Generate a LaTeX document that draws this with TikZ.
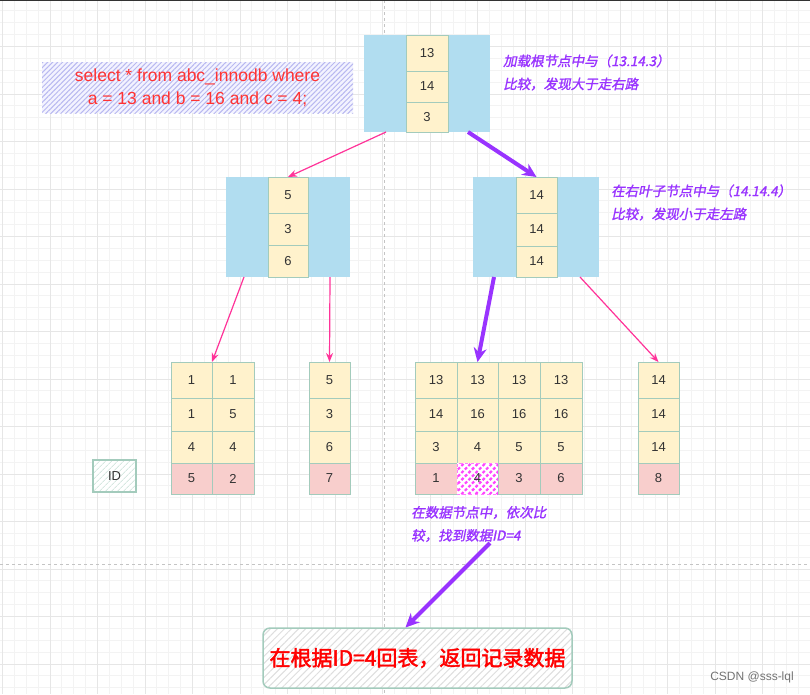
\documentclass[tikz,border=0pt]{standalone}
\usepackage{fontspec}
\setmainfont{Liberation Sans}
\newfontfamily\cjk[FakeBold=2.2]{Noto Sans CJK SC}
\newfontfamily\annfont[FakeSlant=0.2,FakeBold=1.5]{Noto Sans CJK SC}
\usetikzlibrary{arrows.meta,patterns.meta}
\definecolor{blueC}{HTML}{B1DDF0}
\definecolor{cellY}{HTML}{FFF2CC}
\definecolor{pinkC}{HTML}{F8CECC}
\definecolor{cellB}{HTML}{A3CBBC}
\definecolor{txtC}{HTML}{333333}
\definecolor{purC}{HTML}{9933FF}
\definecolor{redC}{HTML}{FF3333}
\definecolor{pinkA}{HTML}{FF3399}
\definecolor{qbg}{HTML}{F3F3FF}
\definecolor{qline}{HTML}{B8B8F0}
\definecolor{gridMinor}{HTML}{F3F3F3}
\definecolor{gridMajor}{HTML}{E6E6E6}
\definecolor{pageC}{HTML}{C4C4C4}
\definecolor{hatchM}{HTML}{FF44FF}
\tikzset{
  cell/.style 2 args={draw=cellB, fill=cellY, line width=1pt, inner sep=0pt, outer sep=0pt,
    anchor=north west, minimum width=#1pt, minimum height=#2pt, text=txtC,
    font=\fontsize{13}{15}\selectfont},
  pinkcell/.style 2 args={cell={#1}{#2}, fill=pinkC},
  hcell/.style 2 args={anchor=north west, inner sep=0pt, outer sep=0pt, minimum width=#1pt, minimum height=#2pt,
    draw=hatchM!70, dashed, line width=0.8pt, preaction={fill=white},
    pattern={Lines[angle=45,distance=5pt,line width=2.2pt]}, pattern color=hatchM,
    text=txtC, font=\fontsize{13}{15}\selectfont},
  blk/.style={fill=blueC, draw=none, anchor=north west, inner sep=0pt, outer sep=0pt},
  ann/.style={anchor=west, inner sep=0pt, align=left, text=purC, font=\annfont\fontsize{13.5}{23}\selectfont},
  pinkarr/.style={draw=pinkA, line width=1.2pt, -{Stealth[length=9pt,width=7pt]}},
  purparr/.style={draw=purC, line width=4pt, -{Stealth[length=14pt,width=13pt]}},
}
\newcommand\leafcol[8][pinkcell]{%
  \node[cell={#4}{36}] (#2a) at (#3,362) {#5};
  \node[cell={#4}{33}] (#2b) at (#3,398) {#6};
  \node[cell={#4}{32}] (#2c) at (#3,431) {#7};
  \node[#1={#4}{31}] (#2d) at (#3,463) {#8};}
\begin{document}
\begin{tikzpicture}[x=1pt,y=-1pt]
\useasboundingbox (0,0) rectangle (810,694);
\fill[white] (0,0) rectangle (810,694);
% grid
\foreach \k in {0,...,68} {\draw[gridMinor,line width=0.8pt] ({2.5+\k*11.875},0) -- ++(0,694);}
\foreach \k in {0,...,58} {\draw[gridMinor,line width=0.8pt] (0,{-1+\k*11.875}) -- ++(810,0);}
\foreach \k in {0,...,17} {\draw[gridMajor,line width=0.9pt] ({2.5+\k*47.5},0) -- ++(0,694);}
\foreach \k in {0,...,14} {\draw[gridMajor,line width=0.9pt] (0,{-1+\k*47.5}) -- ++(810,0);}
% page break lines
\draw[pageC,line width=1pt,dash pattern=on 3pt off 3pt] (384,0) -- (384,694);
\draw[pageC,line width=1pt,dash pattern=on 3pt off 3pt] (0,564) -- (810,564);
\draw[txtC,line width=1.5pt] (0,0.5) -- (810,0.5);

% query
\node[minimum width=311pt, minimum height=51pt, inner sep=0pt, align=center, text=redC,
  font=\fontsize{17.5}{23}\selectfont, preaction={fill=qbg},
  pattern={Lines[angle=45,distance=3.5pt,line width=1pt]}, pattern color=qline]
  (query) at (197.5,87.5) {select * from abc\_innodb where\\a = 13 and b = 16 and c = 4;};

% root
\node[blk,minimum width=126pt,minimum height=97pt] (root) at (364,35) {};
\node[cell={42}{36}] (r1) at (406,35) {13};
\node[cell={42}{31}] (r2) at (406,71) {14};
\node[cell={42}{30}] (r3) at (406,102) {3};
\node[ann] (ann1) at (503,72.5) {加载根节点中与（13.14.3）\\比较，发现大于走右路};

% left middle
\node[blk,minimum width=124pt,minimum height=100pt] (lm) at (226,177) {};
\node[cell={40}{36}] (lm1) at (268,177) {5};
\node[cell={40}{32}] (lm2) at (268,213) {3};
\node[cell={40}{32}] (lm3) at (268,245) {6};

% right middle
\node[blk,minimum width=126pt,minimum height=100pt] (rm) at (473,177) {};
\node[cell={41}{36}] (rm1) at (516,177) {14};
\node[cell={41}{33}] (rm2) at (516,213) {14};
\node[cell={41}{31}] (rm3) at (516,246) {14};
\node[ann] (ann2) at (611,202.5) {在右叶子节点中与（14.14.4）\\比较，发现小于走左路};

% leaves
\leafcol{p}{171}{41}{1}{1}{4}{5}
\leafcol{q}{212}{42}{1}{5}{4}{2}
\leafcol{s}{309}{41}{5}{3}{6}{7}
\leafcol{t}{415}{42}{13}{14}{3}{1}
\leafcol[hcell]{u}{457}{41}{13}{16}{4}{4}
\leafcol{v}{498}{42}{13}{16}{5}{3}
\leafcol{w}{540}{42}{13}{16}{5}{6}
\leafcol{z}{638}{41}{14}{14}{14}{8}

% ID legend
\node[minimum width=43pt, minimum height=32pt, inner sep=0pt, draw=cellB, line width=1.2pt,
  preaction={fill=white}, pattern={Lines[angle=45,distance=4pt,line width=1pt]}, pattern color=cellB!45,
  text=txtC, font=\fontsize{13}{15}\selectfont] (idb) at (114.5,476) {ID};

% annotation 3
\node[ann] (ann3) at (411,524) {在数据节点中，依次比\\较，找到数据ID=4};
\coordinate (a3s) at (490,543);

% final box
\node[minimum width=309pt, minimum height=60pt, inner sep=0pt, rounded corners=7pt, draw=cellB, line width=1.5pt,
  preaction={fill=white}, pattern={Lines[angle=45,distance=5pt,line width=1pt]}, pattern color=black!13,
  text=red, font=\cjk\fontsize{21}{24}\selectfont] (final) at (417.5,658) {在根据ID=4回表，返回记录数据};

% watermark
\node[text=black!55, font=\fontsize{12}{14}\selectfont, inner sep=0pt] (wm) at (752,677) {CSDN @sss-lql};

% arrows
\draw[pinkarr] ([xshift=22pt]root.south west) -- (lm1.north);
\draw[purparr] ([xshift=104pt]root.south west) -- (rm1.north);
\draw[pinkarr] ([xshift=18pt]lm.south west) -- (pa.north east);
\draw[pinkarr] ([xshift=104pt]lm.south west) -- (sa.north);
\draw[purparr] ([xshift=21pt]rm.south west) -- (ua.north);
\draw[pinkarr] ([xshift=107pt]rm.south west) -- (za.north);
\draw[purparr] (a3s) -- ([xshift=-12pt]final.north);
\end{tikzpicture}
\end{document}
